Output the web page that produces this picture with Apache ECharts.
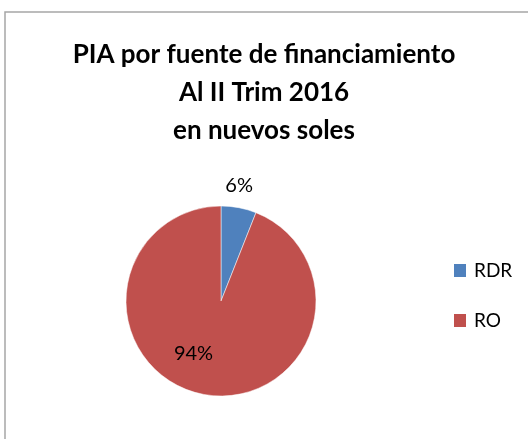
<!DOCTYPE html>
<html>
<head>
<meta charset="utf-8">
<script src="https://cdn.jsdelivr.net/npm/echarts@6/dist/echarts.min.js"></script>
<style>
  html, body { margin: 0; padding: 0; background: #fff; }
  #draw { width: 528px; height: 439px; }
</style>
</head>
<body>
<div id="draw"></div>
<script>
  // datos del gráfico
  var categorias = ['RDR', 'RO']
  var valores = [6, 94]
  var colores = ['#4F81BD', '#C0504D']
  var titulo = 'PIA por fuente de financiamiento\nAl II Trim 2016\nen nuevos soles'

  var myChart = echarts.init(document.getElementById('draw'))

  var data = []
  for (var i = 0; i < categorias.length; i++) {
    data.push({
      name: categorias[i],
      value: valores[i],
      itemStyle: { color: colores[i] },
      label: i === 0 ? { position: 'outside' } : { position: 'inside' }
    })
  }

  // pequeños ajustes de las etiquetas (estilo Excel)
  var ajusteEtiqueta = [[-20, -14], [-18, 3]]

  myChart.setOption({
    animation: false,
    graphic: [{ //  marco
      type: 'rect',
      shape: { x: 5, y: 12, width: 600, height: 500 },
      style: { fill: 'none', stroke: '#a6a6a6', lineWidth: 1.5 }
    }],
    title: {
      text: titulo,
      left: 'center',
      top: 31,
      textStyle: {
        fontFamily: 'Lato',
        fontWeight: 'bold',
        fontSize: 26,
        lineHeight: 38,
        color: '#000'
      }
    },
    legend: {
      orient: 'vertical',
      left: 447,
      top: 256,
      icon: 'rect',
      itemWidth: 14,
      itemHeight: 15,
      itemGap: 31,
      textStyle: { fontFamily: 'Lato', fontSize: 19, color: '#000', padding: [0, 0, 0, 2] },
      data: categorias
    },
    series: [{
      type: 'pie',
      center: [221, 301],
      radius: 95,
      startAngle: 90,
      clockwise: true,
      label: {
        formatter: '{d}%',
        fontFamily: 'Lato',
        fontSize: 20,
        color: '#000'
      },
      labelLine: { show: false, length: 8, length2: 0 },
      labelLayout: function (params) {
        var a = ajusteEtiqueta[params.dataIndex]
        return { dx: a[0], dy: a[1] }
      },
      itemStyle: { borderColor: '#fff', borderWidth: 0.5 },
      data: data
    }]
  })
</script>
</body>
</html>
